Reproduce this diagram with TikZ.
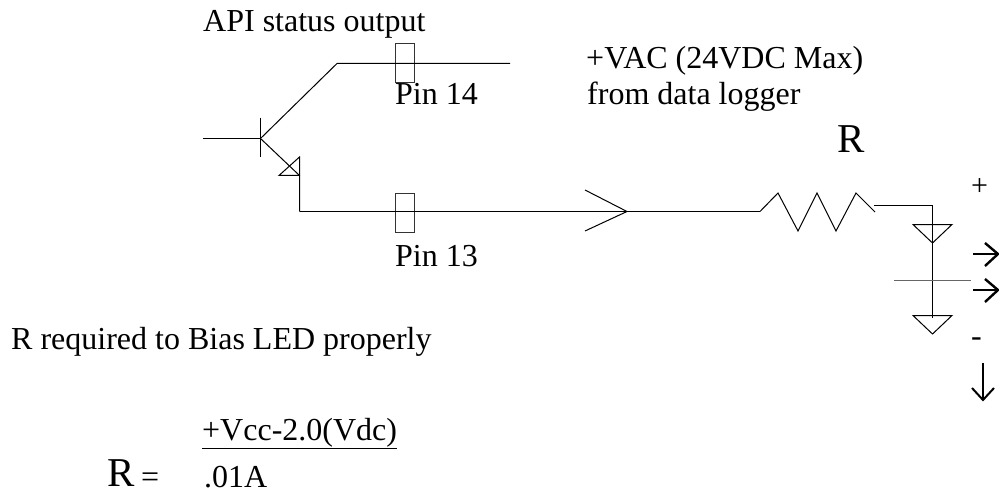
\documentclass[tikz,border=0pt]{standalone}
\usepackage{fontspec}
\setmainfont{Liberation Serif}
\usetikzlibrary{
  positioning
}

\begin{document}
\begin{tikzpicture}[
      x=1pt,y=-1pt,
      wire/.style={draw=black,line width=1pt},
      pin/.style={
         rectangle,
         draw=black!80,
         line width=1pt,
         inner sep=0pt,
         minimum width=19pt,
         minimum height=39pt
      },
      label/.style={anchor=base west,inner sep=0pt,font=\fontsize{32}{32}\selectfont},
      big label/.style={anchor=base west,inner sep=0pt,font=\fontsize{41}{41}\selectfont},
      glyph arrow/.style={draw=black,line width=2.4pt},
      point/.style={coordinate}
    ]
    \useasboundingbox (0,0) rectangle (999,492);
    % transistor
    \node (base) at (203,138.5) [point] {};
    \node (junction) at (260.5,138.5) [point] {};
    \node (bartop) at (260.5,118) [point] {};
    \node (barbot) at (260.5,157) [point] {};
    \node (knee) at (337,63.5) [point] {};
    \node (outend) at (510,63.5) [point] {};
    \node (emitter) at (299.5,175.5) [point] {};
    \node (corner) at (299.5,211.5) [point] {};
    \node (tipup) at (299.5,157) [point] {};
    \node (tipleft) at (279,175.5) [point] {};
    % pins
    \node (pin14) at (404.5,63.5) [pin] {};
    \node (pin13) at (404.5,212.5) [pin] {};
    \node (p14) at (395,105) [label] {Pin 14};
    \node (p13) at (395,266) [label] {Pin 13};
    \draw[wire] (base) -- (junction);
    \draw[wire] (bartop) -- (barbot);
    \draw[wire] (junction) -- (knee) -- (outend);
    \draw[wire] (junction) -- (emitter) -- (corner);
    \draw[wire] (tipup) -- (tipleft) -- (emitter) -- cycle;
    % chevron and resistor
    \node (resin) at (760,211.5) [point] {};
    \node (chevtop) at (585,190) [point] {};
    \node (chevtip) at (627,211.5) [point] {};
    \node (chevbot) at (585,231) [point] {};
    \draw[wire] (corner) -- (resin);
    \draw[wire] (chevtop) -- (chevtip) -- (chevbot);
    \node (z1) at (778,193) [point] {};
    \node (z2) at (798,231) [point] {};
    \node (z3) at (817,193) [point] {};
    \node (z4) at (836,231) [point] {};
    \node (z5) at (856,193) [point] {};
    \node (resout) at (875,212) [point] {};
    \draw[wire] (resin) -- (z1) -- (z2) -- (z3) -- (z4) -- (z5) -- (resout);
    % LED
    \node (ledin) at (874,205.5) [point] {};
    \node (ledtop) at (932.5,205.5) [point] {};
    \node (ledbot) at (932.5,318) [point] {};
    \draw[wire] (ledin) -- (ledtop) -- (ledbot);
    \node (a1) at (913,224.5) [point] {};
    \node (a2) at (952,224.5) [point] {};
    \node (a3) at (932.5,243) [point] {};
    \draw[wire] (a1) -- (a2) -- (a3) -- cycle;
    \node (b1) at (913,315.5) [point] {};
    \node (b2) at (952,315.5) [point] {};
    \node (b3) at (932.5,334) [point] {};
    \draw[wire] (b1) -- (b2) -- (b3) -- cycle;
    \node (barl) at (894,280.5) [point] {};
    \node (barr) at (971,280.5) [point] {};
    \draw[wire,draw=black!60] (barl) -- (barr);
    % light arrows
    \node (l1s) at (973,254) [point] {};
    \node (l1e) at (998,254) [point] {};
    \node (l1a) at (985,243) [point] {};
    \node (l1b) at (985,266) [point] {};
    \draw[glyph arrow] (l1s) -- (l1e);
    \draw[glyph arrow] (l1a) -- (l1e) -- (l1b);
    \node (l2s) at (973,290) [point] {};
    \node (l2e) at (998,290) [point] {};
    \node (l2a) at (985,279) [point] {};
    \node (l2b) at (985,302) [point] {};
    \draw[glyph arrow] (l2s) -- (l2e);
    \draw[glyph arrow] (l2a) -- (l2e) -- (l2b);
    % current arrow
    \node (cs) at (983,363) [point] {};
    \node (ce) at (983,400) [point] {};
    \node (ca) at (972,388) [point] {};
    \node (cb) at (994,388) [point] {};
    \draw[wire,line width=1.4pt] (cs) -- (ce);
    \draw[glyph arrow,line width=2pt] (ca) -- (ce) -- (cb);
    % texts
    \node (api) at (203,32) [label] {API status output};
    \node (vac) at (586,69) [label] {+VAC (24VDC Max)};
    \node (logger) at (587,105) [label] {from data logger};
    \node (rtop) at (837,153) [big label] {R};
    \node (plus) at (971,195) [label,font=\fontsize{30}{30}\selectfont] {+};
    \node (minus) at (971,346) [label] {-};
    \node (req) at (11,349) [label] {R required to Bias LED properly};
    \node (num) at (202,440) [label] {\underline{+Vcc-2.0(Vdc)}};
    \node (rbot) at (107,486) [big label] {R};
    \node (eq) at (141,487) [label] {=};
    \node (den) at (204,487) [label] {.01A};
\end{tikzpicture}
\end{document}
